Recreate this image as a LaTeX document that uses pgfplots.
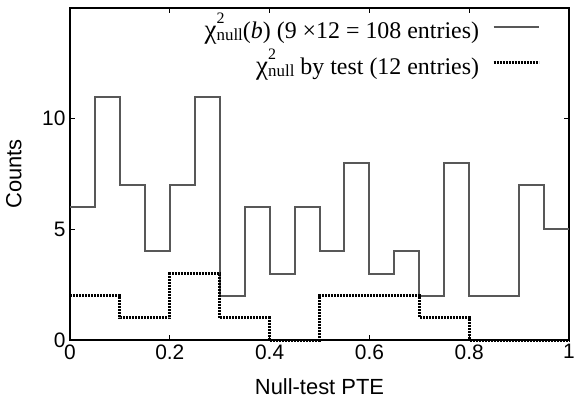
\documentclass[border=0pt]{standalone}
\usepackage{fontspec}
\setmainfont{Liberation Serif}
\newfontfamily\sansfont{Liberation Sans}
\usepackage{pgfplots}
\pgfplotsset{compat=1.18}

\definecolor{histgray}{RGB}{88,88,88}

% chi^2_null as gnuplot sets it: small 2 high up, "null" near the baseline
\newcommand{\chinull}{{\fontsize{27}{28}\selectfont χ}\rlap{\raisebox{0.62em}{\fontsize{16}{16}\selectfont 2}}%
  \raisebox{-0.08em}{\fontsize{17}{17}\selectfont null}}

\begin{document}
\begin{tikzpicture}[x=1bp,y=1bp]
\useasboundingbox (0,0) rectangle (576,401);
\begin{axis}[
    at={(70bp,61bp)}, anchor=south west,
    scale only axis,
    width=499bp, height=332bp,
    clip=false,
    xmin=0, xmax=1,
    ymin=0, ymax=15,
    xtick={0,0.2,0.4,0.6,0.8,1},
    xticklabels={0,0.2,0.4,0.6,0.8,1},
    ytick={0,5,10},
    major tick length=5bp,
    tick style={black, line width=0.8bp},
    axis line style={line width=1.2bp},
    /pgf/number format/assume math mode=true,
    tick label style={font=\sansfont\fontsize{21}{24}\selectfont},
    label style={font=\sansfont\fontsize{22}{26}\selectfont},
    xlabel={Null-test PTE},
    ylabel={Counts},
    xlabel style={at={(0.5,0)}, anchor=north, yshift=-35bp},
    ylabel style={at={(0,0.5)}, anchor=south, yshift=45bp},
    xticklabel style={yshift=-1bp},
    yticklabel style={xshift=-1bp},
    legend style={draw=none, fill=none, at={(0.942,0.984)}, anchor=north east,
        inner sep=0pt, outer sep=0pt,
        font=\fontsize{24}{28}\selectfont, row sep=9bp,
        nodes={inner sep=0bp}},
    legend cell align=right,
    legend plot pos=right,
    legend image code/.code={\path (0bp,0bp); \draw[#1] (13bp,0bp) -- (58bp,0bp);},
]
\addplot[const plot mark left, histgray, line width=2bp] coordinates {
    (0.00,6) (0.05,11) (0.10,7) (0.15,4) (0.20,7)
    (0.25,11) (0.30,2) (0.35,6) (0.40,3) (0.45,6)
    (0.50,4) (0.55,8) (0.60,3) (0.65,4) (0.70,2)
    (0.75,8) (0.80,2) (0.85,2) (0.90,7) (0.95,5)
    (1.00,5)
};
\addlegendentry{\chinull(\textit{b}) (9 ×12 = 108 entries)}
\addplot[const plot mark left, black, line width=3bp, dash pattern=on 2bp off 1bp] coordinates {
    (0.0,2) (0.1,1) (0.2,3) (0.3,1) (0.4,0)
    (0.5,2) (0.6,2) (0.7,1) (0.8,0) (0.9,0)
    (1.0,0)
};
\addlegendentry{\chinull{} by test (12 entries)}
\end{axis}
\end{tikzpicture}
\end{document}
